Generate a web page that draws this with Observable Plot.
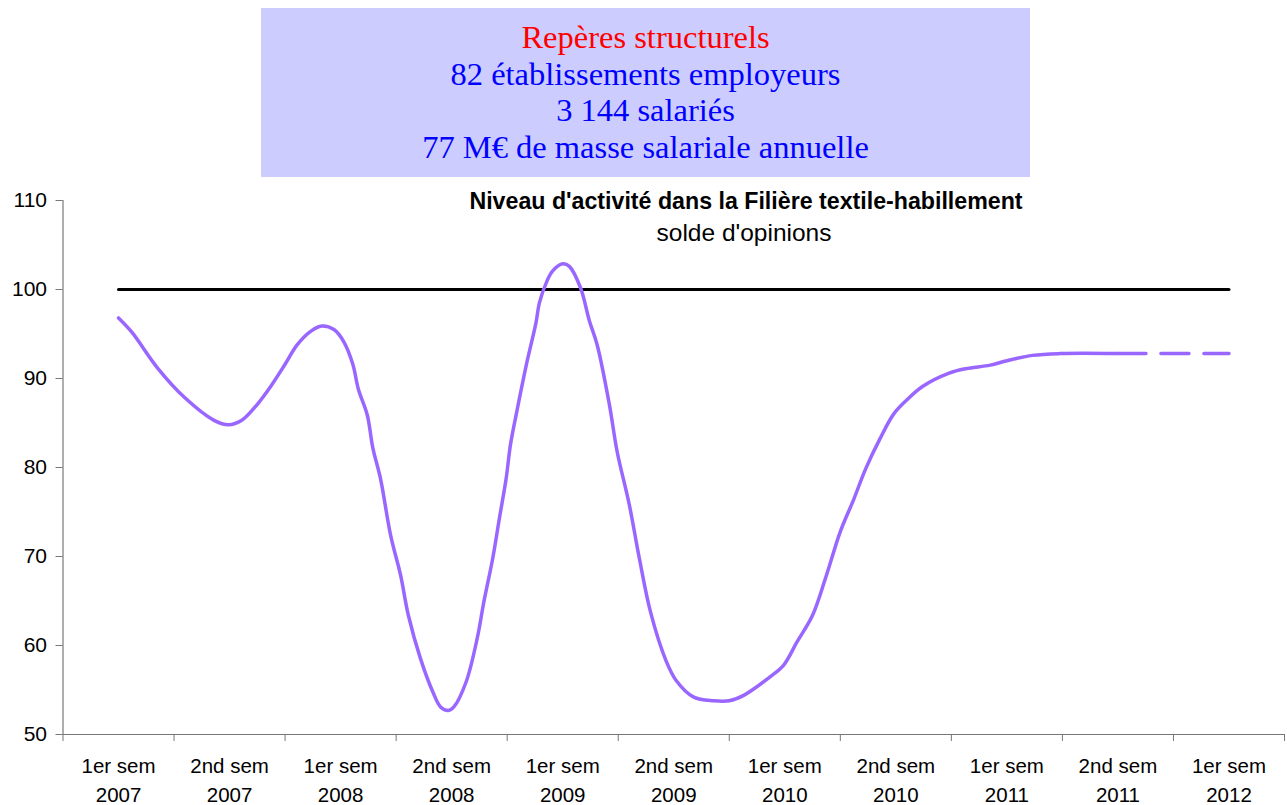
<!DOCTYPE html>
<html><head><meta charset="utf-8">
<script src="https://cdn.jsdelivr.net/npm/d3@7"></script>
<script src="https://cdn.jsdelivr.net/npm/@observablehq/plot@0.6"></script>
<style>
body{margin:0;background:#fff;}
#wrap{position:relative;width:1287px;height:805px;overflow:hidden;}
#box{position:absolute;left:261px;top:8px;width:769px;height:169px;box-sizing:border-box;padding-top:11px;background:#ccccff;font-family:"Liberation Serif","Times New Roman",serif;font-size:32.5px;line-height:36.7px;text-align:center;color:#0000ff;}
#box .red{color:#ff0000;}
#chart{position:absolute;left:0;top:180px;}
</style>
</head><body>
<div id="wrap">
  <div id="box"></div>
  <div id="chart"></div>
</div>
<script>
// ---- data ----
const headerTitle = "Repères structurels";
const headerLines = ["82 établissements employeurs", "3 144 salariés", "77 M€ de masse salariale annuelle"];
const chartTitle = "Niveau d'activité dans la Filière textile-habillement";
const chartSubtitle = "solde d'opinions";

const semestres = ["1er sem\n2007","2nd sem\n2007","1er sem\n2008","2nd sem\n2008","1er sem\n2009","2nd sem\n2009","1er sem\n2010","2nd sem\n2010","1er sem\n2011","2nd sem\n2011","1er sem\n2012"];
const yTicks = [50, 60, 70, 80, 90, 100, 110];

// reference level (base 100)
const referencePeriode = [0, 10];
const referenceNiveau = [100, 100];

const periode = [0, 0.12, 0.35, 0.60, 0.86, 0.99, 1.11, 1.25, 1.37, 1.49, 1.61, 1.73, 1.83, 1.94, 2.03, 2.11, 2.16, 2.24, 2.29, 2.36, 2.45, 2.54, 2.61, 2.72, 2.83, 2.90, 2.97, 3.02, 3.13, 3.23, 3.29, 3.37, 3.43, 3.49, 3.53, 3.59, 3.67, 3.76, 3.79, 3.86, 3.91, 4.00, 4.06, 4.16, 4.24, 4.31, 4.42, 4.49, 4.60, 4.69, 4.79, 4.93, 5.02, 5.18, 5.36, 5.50, 5.63, 5.87, 5.99, 6.11, 6.25, 6.37, 6.50, 6.62, 6.73, 6.86, 6.98, 7.10, 7.24, 7.48, 7.63, 7.85, 8.00, 8.23, 8.48, 9.00];
const niveau = [96.8, 95.2, 91.2, 87.8, 85.3, 84.8, 85.3, 87.1, 89.1, 91.4, 93.8, 95.3, 95.9, 95.5, 94.1, 91.6, 88.8, 85.9, 82.2, 78.7, 72.4, 67.9, 63.4, 58.5, 54.8, 53.1, 52.7, 53.1, 55.9, 60.8, 64.9, 69.8, 74.3, 78.7, 82.6, 86.5, 91.4, 96.3, 98.5, 101.0, 102.1, 102.9, 102.6, 100.2, 96.5, 93.8, 87.1, 81.8, 75.8, 69.8, 63.8, 58.3, 56.1, 54.2, 53.8, 53.8, 54.4, 56.5, 57.8, 60.4, 63.4, 67.7, 72.8, 76.4, 79.9, 83.3, 86.0, 87.6, 89.1, 90.6, 91.1, 91.5, 92.0, 92.6, 92.8, 92.8];

// forecast (dashed)
const prevPeriode = [9, 10];
const prevNiveau = [92.8, 92.8];

// ---- header ----
const box = document.getElementById("box");
box.innerHTML = `<div class="red">${headerTitle}</div>` + headerLines.map(l => `<div>${l}</div>`).join("");

// ---- chart ----
const toRows = (xs, ys) => xs.map((t, i) => ({t, v: ys[i]}));
const trace = toRows(periode, niveau);
const reference = toRows(referencePeriode, referenceNiveau);
const prevision = toRows(prevPeriode, prevNiveau);
const boundaries = d3.range(-0.5, semestres.length, 1);
const axisColor = "#777";
const purple = "#9966ff";

const chart = Plot.plot({
  width: 1287,
  height: 625,
  marginTop: 20,
  marginBottom: 71,
  marginLeft: 62.5,
  marginRight: 3,
  style: {fontFamily: "'Liberation Sans', Arial, sans-serif", fontSize: "20px", color: "#000", background: "#fff"},
  x: {domain: [-0.5, semestres.length - 0.5]},
  y: {domain: [50, 110]},
  marks: [
    Plot.ruleX([-0.5], {stroke: axisColor, strokeWidth: 1.2}),
    Plot.ruleY([50], {stroke: axisColor, strokeWidth: 1.2}),
    Plot.axisY({ticks: yTicks, tickSize: 7, tickPadding: 9, fontSize: 21, label: null, stroke: axisColor, strokeOpacity: 1}),
    Plot.axisX({ticks: boundaries, tickSize: 7, tickFormat: () => "", label: null, stroke: axisColor, strokeOpacity: 1}),
    Plot.axisX({ticks: d3.range(semestres.length), tickSize: 0, tickPadding: 18, tickFormat: i => semestres[i], fontSize: 20.5, lineHeight: 1.42, label: null}),
    Plot.line(reference, {x: "t", y: "v", stroke: "#000", strokeWidth: 3}),
    Plot.line(trace, {x: "t", y: "v", stroke: purple, strokeWidth: 3.5, curve: "catmull-rom"}),
    Plot.line(prevision, {x: "t", y: "v", stroke: purple, strokeWidth: 3.5, strokeDasharray: "28,15"}),
    Plot.text([chartTitle], {text: d => d, frameAnchor: "top-left", dx: 683, dy: 1, lineAnchor: "middle", textAnchor: "middle", fontWeight: "bold", fontSize: 23.2, fill: "#000"}),
    Plot.text([chartSubtitle], {text: d => d, frameAnchor: "top-left", dx: 681, dy: 33, lineAnchor: "middle", textAnchor: "middle", fontSize: 24.5, fill: "#000"})
  ]
});
document.getElementById("chart").appendChild(chart);
</script>
</body></html>
